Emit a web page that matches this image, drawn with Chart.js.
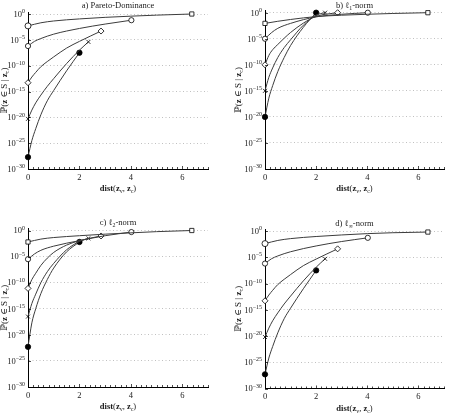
<!DOCTYPE html>
<html lang="en">
<head>
  <meta charset="UTF-8">
  <title>Membership probability vs distance</title>
  <script src="https://cdn.jsdelivr.net/npm/chart.js"></script>
  <style>
    body { margin: 0; background: #fff; }
    .panel { position: absolute; }
  </style>
</head>
<body>
  <div class="panel" id="pa" style="left:0;top:0;width:226px;height:207px"><canvas id="ca"></canvas></div>
  <div class="panel" id="pb" style="left:226px;top:0;width:227px;height:207px"><canvas id="cb"></canvas></div>
  <div class="panel" id="pc" style="left:0;top:207px;width:226px;height:210px"><canvas id="cc"></canvas></div>
  <div class="panel" id="pd" style="left:226px;top:207px;width:227px;height:210px"><canvas id="cd"></canvas></div>

  <script>
    // distances at which each curve was read (last entry = curve end)
    const xSquare  = [0, 0.5, 1, 2, 3, 4, 5, 6.37];
    const xCircle  = [0, 0.25, 0.5, 1, 2, 3, 4.02];
    const xDiamond = [0, 0.15, 0.3, 0.5, 0.75, 1, 1.5, 2, 2.84];
    const xCross   = [0, 0.15, 0.3, 0.5, 0.75, 1, 1.5, 2, 2.35];
    const xDot     = [0, 0.15, 0.3, 0.5, 0.75, 1, 1.5, 2];

    // log10 P(z in S | z_c)
    // a) Pareto-Dominance
    const paretoSquare  = [-2.3, -1.7, -1.35, -0.95, -0.65, -0.42, -0.22, 0];
    const paretoCircle  = [-6.2, -5.3, -4.75, -3.9, -2.8, -1.95, -1.2];
    const paretoDiamond = [-13.3, -12.2, -11.3, -10.2, -9.2, -8.3, -6.6, -5.3, -3.3];
    const paretoCross   = [-20.3, -18.6, -17.2, -15.7, -14.0, -12.5, -9.6, -7.0, -5.4];
    const paretoDot     = [-27.7, -24.5, -22.2, -19.5, -16.8, -14.8, -11.0, -7.5];
    // b) l1-norm
    const l1Square  = [-2.05, -1.65, -1.3, -0.75, -0.48, -0.3, -0.15, 0];
    const l1Circle  = [-5.0, -3.85, -3.0, -2.05, -0.8, -0.3, 0];
    const l1Diamond = [-10.0, -8.2, -7.1, -6.1, -4.9, -3.8, -2.0, -0.7, 0];
    const l1Cross   = [-15.0, -12.4, -10.6, -8.6, -6.7, -5.2, -2.4, -0.45, 0];
    const l1Dot     = [-20.0, -16.4, -14.0, -11.3, -8.6, -6.3, -2.8, 0];
    // c) l2-norm
    const l2Square  = [-2.2, -1.65, -1.35, -1.0, -0.7, -0.45, -0.22, 0];
    const l2Circle  = [-5.5, -4.5, -3.8, -3.0, -1.95, -1.0, -0.3];
    const l2Diamond = [-11.1, -9.4, -8.2, -6.7, -5.3, -4.2, -2.8, -1.95, -1.05];
    const l2Cross   = [-16.5, -14.0, -12.2, -10.0, -7.9, -6.3, -3.7, -2.1, -1.5];
    const l2Dot     = [-22.3, -17.7, -15.0, -12.1, -9.4, -7.2, -4.1, -2.2];
    // d) l-infinity-norm
    const linfSquare  = [-2.4, -1.8, -1.45, -1.05, -0.75, -0.5, -0.33, -0.2];
    const linfCircle  = [-6.2, -5.3, -4.75, -3.95, -2.85, -2.0, -1.3];
    const linfDiamond = [-13.3, -12.2, -11.3, -10.2, -9.2, -8.3, -6.6, -5.35, -3.4];
    const linfCross   = [-20.2, -18.5, -17.1, -15.6, -13.9, -12.4, -9.5, -6.9, -5.3];
    const linfDot     = [-27.3, -24.2, -22.0, -19.4, -16.7, -14.7, -11.0, -7.5];

    const yTickExp = [-30, -25, -20, -15, -10, -5, 0];
    const xTicks = [0, 2, 4, 6];

    const FONT = '"Liberation Serif", "DejaVu Serif", serif';
    const LINE = '#3c3c3c';
    const Y_MAX_EXP = 0.35;

    const markers = [
      { x: xSquare,  style: 'rect',     fill: '#fff', r: 3 },
      { x: xCircle,  style: 'circle',   fill: '#fff', r: 2.6 },
      { x: xDiamond, style: 'rectRot',  fill: '#fff', r: 3 },
      { x: xCross,   style: 'crossRot', fill: '#fff', r: 2.8 },
      { x: xDot,     style: 'circle',   fill: '#000', r: 2.7 }
    ];

    const panels = [
      { id: 'ca', w: 226, h: 207, left: 28, right: 208, top0: 14, bottom: 169, titleY: 5, yTitleX: 4,
        title: [['a) Pareto-Dominance']],
        series: [paretoSquare, paretoCircle, paretoDiamond, paretoCross, paretoDot],
        firstSquare: 'circle' },
      { id: 'cb', w: 227, h: 207, left: 39, right: 218, top0: 12.7, bottom: 169, titleY: 5, yTitleX: 12,
        title: [['b) ℓ'], ['1', 's'], ['-norm']],
        series: [l1Square, l1Circle, l1Diamond, l1Cross, l1Dot],
        firstSquare: 'rect' },
      { id: 'cc', w: 226, h: 210, left: 28, right: 208, top0: 23.5, bottom: 180, titleY: 15.5, yTitleX: 4,
        title: [['c) ℓ'], ['2', 's'], ['-norm']],
        series: [l2Square, l2Circle, l2Diamond, l2Cross, l2Dot],
        firstSquare: 'rect' },
      { id: 'cd', w: 227, h: 210, left: 39, right: 218, top0: 24, bottom: 181.5, titleY: 16, yTitleX: 12,
        title: [['d) ℓ'], ['∞', 's'], ['-norm']],
        series: [linfSquare, linfCircle, linfDiamond, linfCross, linfDot],
        firstSquare: 'circle' }
    ];

    // mixed text: [text, kind] with kind '' normal, 'b' bold, 's' subscript, 'u' superscript
    function partFont(kind, size) {
      const s = (kind === 's' || kind === 'u') ? size * 0.7 : size;
      return (kind === 'b' ? 'bold ' : '') + s + 'px ' + FONT;
    }

    function drawRich(ctx, parts, x, y, size, align) {
      let total = 0;
      parts.forEach(p => { ctx.font = partFont(p[1], size); total += ctx.measureText(p[0]).width; });
      let cx = align === 'right' ? x - total : (align === 'left' ? x : x - total / 2);
      ctx.textAlign = 'left';
      ctx.textBaseline = 'alphabetic';
      const base = y + size * 0.33;
      parts.forEach(p => {
        ctx.font = partFont(p[1], size);
        let dy = 0;
        if (p[1] === 's') dy = size * 0.22;
        if (p[1] === 'u') dy = -size * 0.42;
        ctx.fillText(p[0], cx, base + dy);
        cx += ctx.measureText(p[0]).width;
      });
    }

    const decor = {
      id: 'decor',
      afterDraw(chart, args, opts) {
        const ctx = chart.ctx;
        const xs = chart.scales.x, ys = chart.scales.y;
        const bottom = ys.getPixelForValue(1e-30);
        const left = xs.getPixelForValue(0);
        ctx.save();
        ctx.strokeStyle = '#000';
        ctx.lineWidth = 0.7;
        // inward ticks on the x axis (minor every 0.2)
        for (let i = 0; i <= 35; i++) {
          const px = Math.round(xs.getPixelForValue(i * 0.2)) + 0.5;
          const len = (i % 10 === 0) ? 3 : 2;
          ctx.beginPath();
          ctx.moveTo(px, bottom);
          ctx.lineTo(px, bottom - len);
          ctx.stroke();
        }
        // inward ticks on the y axis
        yTickExp.forEach(e => {
          const py = Math.round(ys.getPixelForValue(Math.pow(10, e))) + 0.5;
          ctx.beginPath();
          ctx.moveTo(left, py);
          ctx.lineTo(left + 3, py);
          ctx.stroke();
        });
        ctx.fillStyle = '#1a1a1a';
        // y tick labels 10^e
        yTickExp.forEach(e => {
          const py = ys.getPixelForValue(Math.pow(10, e));
          drawRich(ctx, [['10'], [String(e).replace('-', '−'), 'u']], left - 3, py, 8.5, 'right');
        });
        // x tick labels
        xTicks.forEach(v => {
          drawRich(ctx, [[String(v)]], xs.getPixelForValue(v), bottom + 8, 8.5, 'center');
        });
        const midX = (xs.left + xs.right) / 2;
        // x axis title
        drawRich(ctx, [['dist', 'b'], ['('], ['z', 'b'], ['v', 's'], [', '], ['z', 'b'], ['c', 's'], [')']],
          midX, bottom + 19.5, 8.5, 'center');
        // y axis title
        ctx.save();
        ctx.translate(opts.yTitleX, (ys.top + ys.bottom) / 2);
        ctx.rotate(-Math.PI / 2);
        drawRich(ctx, [['ℙ('], ['z', 'b'], [' ∈ S | '], ['z', 'b'], ['c', 's'], [')']], 0, 0, 9, 'center');
        ctx.restore();
        // panel title
        drawRich(ctx, opts.title, midX, opts.titleY, 8.5, 'center');
        ctx.restore();
      }
    };

    panels.forEach(p => {
      const decade = (p.bottom - p.top0) / 30;
      const chartTop = p.top0 - Y_MAX_EXP * decade;

      const datasets = markers.map((m, i) => {
        const vals = p.series[i];
        const n = vals.length;
        const styles = vals.map((v, j) => (j === 0 && i === 0) ? p.firstSquare : m.style);
        return {
          data: vals.map((v, j) => ({ x: m.x[j], y: Math.pow(10, v) })),
          borderColor: LINE,
          borderWidth: 1,
          cubicInterpolationMode: 'monotone',
          pointStyle: styles,
          pointRadius: c => (c.dataIndex === 0 || c.dataIndex === n - 1) ? m.r : 0,
          pointBackgroundColor: m.fill,
          pointBorderColor: '#000',
          pointBorderWidth: 0.8,
          clip: false
        };
      });

      new Chart(document.getElementById(p.id), {
        type: 'line',
        data: { datasets },
        options: {
          responsive: true,
          maintainAspectRatio: false,
          animation: false,
          events: [],
          layout: { padding: { top: chartTop, right: p.w - p.right, left: 0, bottom: 0 } },
          plugins: {
            legend: { display: false },
            tooltip: { enabled: false },
            decor: { title: p.title, titleY: p.titleY, yTitleX: p.yTitleX }
          },
          scales: {
            x: {
              type: 'linear',
              min: 0,
              max: 7,
              afterBuildTicks: s => { s.ticks = xTicks.map(v => ({ value: v })); },
              afterFit: s => { s.height = p.h - p.bottom; },
              ticks: { display: false },
              grid: { display: false },
              border: { display: true, color: '#000', width: 1 }
            },
            y: {
              type: 'logarithmic',
              min: 1e-30,
              max: Math.pow(10, Y_MAX_EXP),
              afterBuildTicks: s => { s.ticks = yTickExp.map(e => ({ value: Math.pow(10, e) })); },
              afterFit: s => { s.width = p.left; },
              ticks: { display: false },
              grid: { color: '#b0b0b0', lineWidth: 0.8, drawTicks: false },
              // in v4 border.dash styles the grid lines
              border: { display: true, color: '#000', width: 1, dash: [1, 2.5] }
            }
          }
        },
        plugins: [decor]
      });
    });
  </script>
</body>
</html>
